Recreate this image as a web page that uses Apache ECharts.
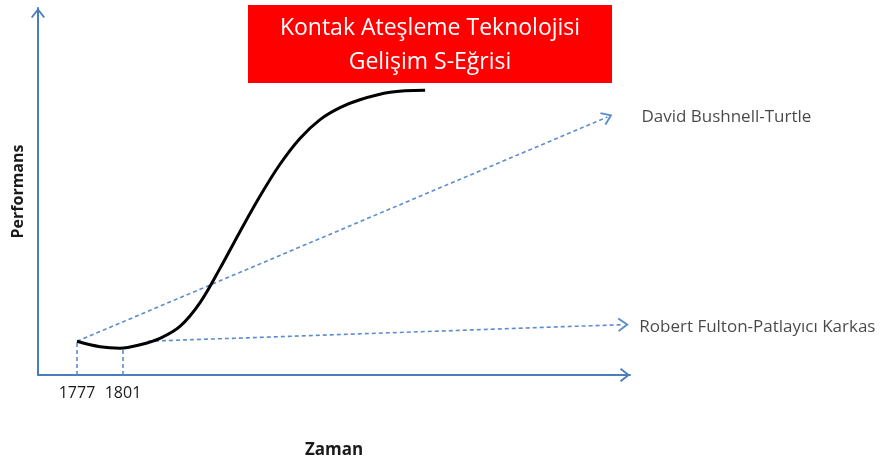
<!DOCTYPE html>
<html><head><meta charset="utf-8">
<script src="https://cdn.jsdelivr.net/npm/echarts@6/dist/echarts.min.js"></script>
<style>html,body{margin:0;padding:0;background:#fff}#c{width:888px;height:464px}</style>
</head><body><div id="c"></div>
<script>
// ---- data ----
var curveYears = [1777, 1789, 1799.4, 1809.9, 1820.3, 1830.7, 1841.2, 1851.6, 1862, 1872.5, 1882.9, 1893.3, 1903.8, 1914.2, 1924.6, 1940.3, 1958.6];
var curvePerf  = [9.19, 7.7, 7.3, 8.24, 10.0, 13.24, 19.73, 29.05, 39.05, 48.78, 57.43, 64.46, 69.59, 72.84, 75.0, 77.03, 77.57];
var tickYears = [1777, 1801];
var bushnellStart = [1777, 9.19];
var bushnellEnd = [2053.7, 70.3];
var fultonStart = [1814, 9.19];
var fultonEnd = [2062, 13.73];
var bushnellLabel = 'David Bushnell-Turtle';
var fultonLabel = 'Robert Fulton-Patlayıcı Karkas';
var titleLines = ['Kontak Ateşleme Teknolojisi', 'Gelişim S-Eğrisi'];
var xName = 'Zaman';
var yName = 'Performans';
var dropPoints = [[1777, 9.19], [1801, 7.3]];

var FONT = '"Open Sans", Lato, sans-serif';
var BLUE = '#4a7ebb';
var DASH = '#5b8ccc';
var chevUp = 'path://M0,9 L7,0 L14,9 L12.6,10.2 L7,3 L1.4,10.2 Z';

var chart = echarts.init(document.getElementById('c'));
var curveData = curveYears.map(function (y, i) { return [y, curvePerf[i]]; });

var markData = [
  [{ coord: bushnellStart, symbol: 'none' }, { coord: bushnellEnd, symbol: chevUp }],
  [{ coord: fultonStart, symbol: 'none' }, { coord: fultonEnd, symbol: chevUp }]
];
dropPoints.forEach(function (p) {
  markData.push([{ coord: [p[0], 0], symbol: 'none' }, { coord: p, symbol: 'none' }]);
});

chart.setOption({
  animation: false,
  textStyle: { fontFamily: FONT },
  grid: { left: 38, top: 8, width: 592, height: 370, containLabel: false },
  xAxis: {
    type: 'value', min: 1756.65, max: 2065.5,
    name: xName, nameLocation: 'middle', nameGap: 67,
    nameTextStyle: { fontFamily: FONT, fontWeight: 'bold', fontSize: 17, color: '#1a1a1a' },
    axisLine: { show: true, lineStyle: { color: BLUE, width: 2 }, symbol: ['none', chevUp], symbolSize: [14, 11], symbolOffset: [0, -5] },
    axisTick: { show: false },
    splitLine: { show: false },
    axisLabel: { customValues: tickYears, formatter: function (v) { return String(v); }, fontSize: 16, color: '#1a1a1a', margin: 10, fontFamily: FONT }
  },
  yAxis: {
    type: 'value', min: 0, max: 100,
    name: yName, nameLocation: 'middle', nameGap: 12,
    nameTextStyle: { fontFamily: FONT, fontWeight: 'bold', fontSize: 16, color: '#1a1a1a' },
    axisLine: { show: true, lineStyle: { color: BLUE, width: 2 }, symbol: ['none', chevUp], symbolSize: [14, 11], symbolOffset: [0, -5] },
    axisTick: { show: false },
    splitLine: { show: false },
    axisLabel: { show: false }
  },
  series: [
    {
      type: 'line', data: curveData, smooth: 0.35, showSymbol: false, z: 5,
      lineStyle: { color: '#000', width: 3 },
      markLine: {
        silent: true, animation: false,
        symbolSize: [14, 11],
        label: { show: false },
        lineStyle: { color: DASH, type: [4, 3], width: 1.6 },
        data: markData
      }
    },
    {
      type: 'scatter', symbolSize: 0, silent: true,
      data: [
        { value: bushnellEnd, label: { show: true, formatter: bushnellLabel, position: 'right', distance: 34, offset: [0, 0] } },
        { value: fultonEnd, label: { show: true, formatter: fultonLabel, position: 'right', distance: 16, offset: [0, 3] } }
      ],
      label: { color: '#1a1a1a', fontSize: 17, fontFamily: FONT }
    }
  ],
  graphic: [
    { type: 'rect', left: 248, top: 5, shape: { width: 364, height: 78 }, style: { fill: '#ff0000' } },
    { type: 'text', x: 430, y: 28, style: { text: titleLines[0], fill: '#fff', font: '23px ' + FONT, align: 'center', verticalAlign: 'middle' } },
    { type: 'text', x: 430, y: 62, style: { text: titleLines[1], fill: '#fff', font: '23px ' + FONT, align: 'center', verticalAlign: 'middle' } }
  ]
});
</script>
</body></html>
